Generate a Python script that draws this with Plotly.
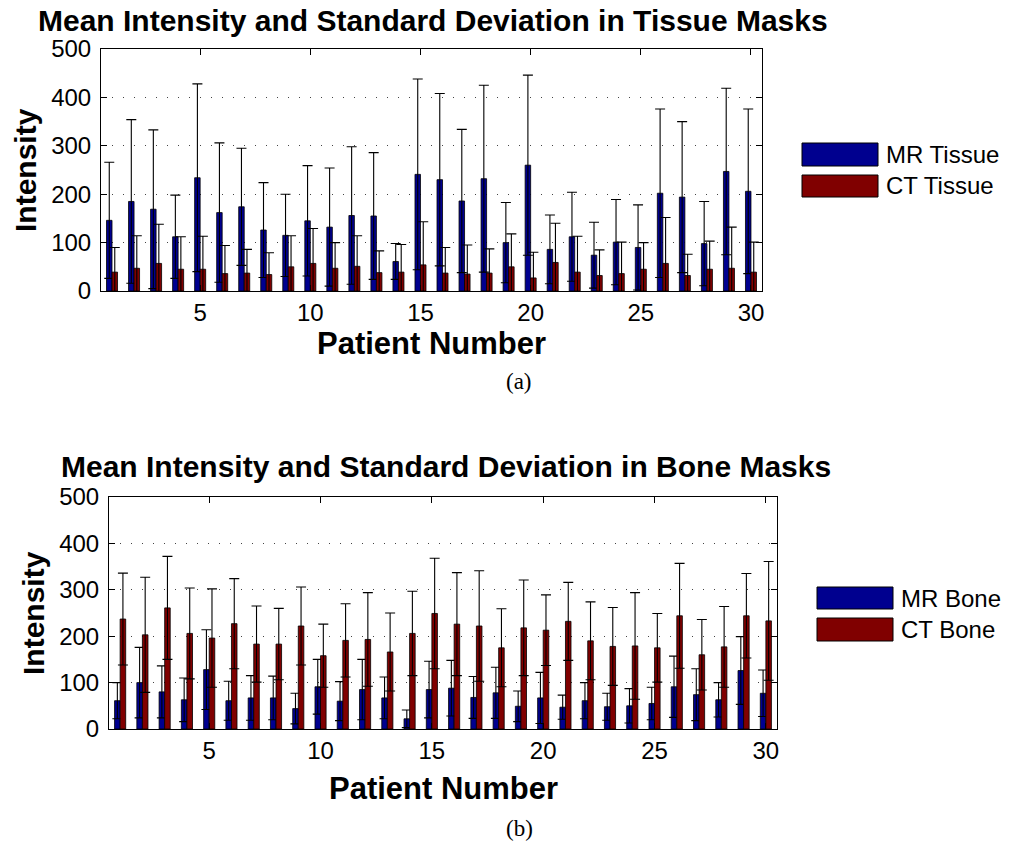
import plotly.graph_objects as go

patients = list(range(1, 31))

mr_tissue_mean = [146, 185, 169, 112, 234, 162, 174, 126, 115, 145,
                  132, 156, 155, 61, 241, 230, 186, 232, 100, 260,
                  86, 112, 74, 101, 90, 202, 194, 98, 247, 206]
mr_tissue_std = [120, 169, 164, 86, 194, 144, 121, 98, 85, 114,
                 122, 142, 131, 37, 197, 178, 148, 193, 83, 186,
                 71, 92, 68, 88, 88, 174, 156, 87, 172, 170]
ct_tissue_mean = [39, 47, 57, 45, 45, 36, 37, 34, 50, 57,
                  47, 51, 38, 39, 54, 37, 35, 37, 50, 27,
                  59, 39, 32, 36, 45, 57, 32, 45, 47, 39]
ct_tissue_std = [51, 67, 81, 67, 68, 58, 49, 45, 64, 72,
                 53, 63, 45, 57, 89, 53, 60, 50, 68, 53,
                 81, 74, 53, 65, 55, 95, 44, 58, 85, 62]

mr_bone_mean = [61, 100, 80, 63, 128, 61, 67, 67, 44, 91,
                60, 85, 67, 22, 85, 88, 68, 78, 49, 67,
                47, 61, 48, 50, 55, 91, 74, 63, 126, 77]
mr_bone_std = [39, 76, 56, 47, 86, 42, 48, 47, 33, 59,
               42, 65, 45, 19, 61, 60, 45, 55, 33, 55,
               26, 39, 29, 37, 35, 66, 56, 37, 73, 50]
ct_bone_mean = [237, 203, 261, 206, 196, 227, 183, 183, 222, 158,
                191, 193, 166, 206, 249, 226, 222, 175, 218, 213,
                232, 190, 178, 179, 175, 244, 160, 177, 244, 233]
ct_bone_std = [99, 124, 111, 98, 106, 97, 82, 77, 84, 68,
               79, 101, 84, 91, 119, 111, 119, 84, 103, 76,
               84, 84, 84, 115, 74, 113, 76, 87, 91, 128]

xticks = [5, 10, 15, 20, 25, 30]
yticks = [0, 100, 200, 300, 400, 500]

BLUE = "#00008F"
RED = "#800000"
FONT = "Liberation Sans"
W, H = 1010, 848


def px(x):
    return x / W


def py(y):
    return 1 - y / H


fig = go.Figure()

err = dict(type="data", visible=True, color="black", thickness=1.1, width=5)


def add_bars(mean, std, color, xa, ya):
    fig.add_trace(go.Bar(
        x=patients, y=mean, xaxis=xa, yaxis=ya,
        marker=dict(color=color, line=dict(color="black", width=0.8)),
        error_y=dict(err, array=std), showlegend=False))


add_bars(mr_tissue_mean, mr_tissue_std, BLUE, "x", "y")
add_bars(ct_tissue_mean, ct_tissue_std, RED, "x", "y")
add_bars(mr_bone_mean, mr_bone_std, BLUE, "x2", "y2")
add_bars(ct_bone_mean, ct_bone_std, RED, "x2", "y2")

xcommon = dict(range=[0.5, 30.5], tickvals=xticks, ticks="inside", ticklen=6,
               showline=True, linecolor="black", linewidth=1, mirror="ticks",
               tickcolor="black", showgrid=False, zeroline=False,
               automargin=False,
               tickfont=dict(family=FONT, size=24, color="black"))
ycommon = dict(range=[0, 500], tickvals=yticks, ticks="inside", ticklen=6,
               showline=True, linecolor="black", linewidth=1, mirror="ticks",
               tickcolor="black", showgrid=True, gridcolor="#444",
               griddash="1px,10px", gridwidth=1.2, zeroline=False,
               automargin=False, ticklabelstandoff=4,
               tickfont=dict(family=FONT, size=24, color="black"))

fig.update_layout(
    template="none",
    width=W, height=H,
    margin=dict(l=0, r=0, t=0, b=0, pad=0, autoexpand=False),
    paper_bgcolor="white", plot_bgcolor="white",
    showlegend=False,
    barmode="group", bargap=0.5, bargroupgap=0,
    xaxis=dict(xcommon, domain=[px(101), px(762)], anchor="y"),
    yaxis=dict(ycommon, domain=[py(291), py(49)], anchor="x"),
    xaxis2=dict(xcommon, domain=[px(109), px(777)], anchor="y2"),
    yaxis2=dict(ycommon, domain=[py(729), py(497)], anchor="x2"),
)

annotations = []


def txt(x, y, text, size, bold=True, angle=0, family=FONT, xanchor="center"):
    annotations.append(dict(
        x=px(x), y=py(y), xref="paper", yref="paper", showarrow=False,
        text=f"<b>{text}</b>" if bold else text, textangle=angle,
        xanchor=xanchor, yanchor="middle",
        font=dict(family=family, size=size, color="black")))


txt(433, 20, "Mean Intensity and Standard Deviation in Tissue Masks", 30)
txt(446, 466, "Mean Intensity and Standard Deviation in Bone Masks", 30)
txt(431, 343, "Patient Number", 31)
txt(443, 788, "Patient Number", 31)
txt(25, 170, "Intensity", 30, angle=-90)
txt(33, 613, "Intensity", 30, angle=-90)
txt(519, 381, "(a)", 23, bold=False, family="Liberation Serif")
txt(519, 828, "(b)", 23, bold=False, family="Liberation Serif")

# legends
shapes = []


def legend_item(x0, x1, y0, y1, color, label, tx):
    shapes.append(dict(type="rect", xref="paper", yref="paper",
                       x0=px(x0), x1=px(x1), y0=py(y1), y1=py(y0),
                       fillcolor=color, line=dict(color="black", width=1)))
    txt(tx, (y0 + y1) / 2, label, 24, bold=False, xanchor="left")


legend_item(802, 878, 143, 166, BLUE, "MR Tissue", 884)
legend_item(802, 878, 175, 197, RED, "CT Tissue", 884)
legend_item(817, 893, 587, 609, BLUE, "MR Bone", 899)
legend_item(817, 893, 618, 641, RED, "CT Bone", 899)

fig.update_layout(annotations=annotations, shapes=shapes)

fig.write_html("out.html")
